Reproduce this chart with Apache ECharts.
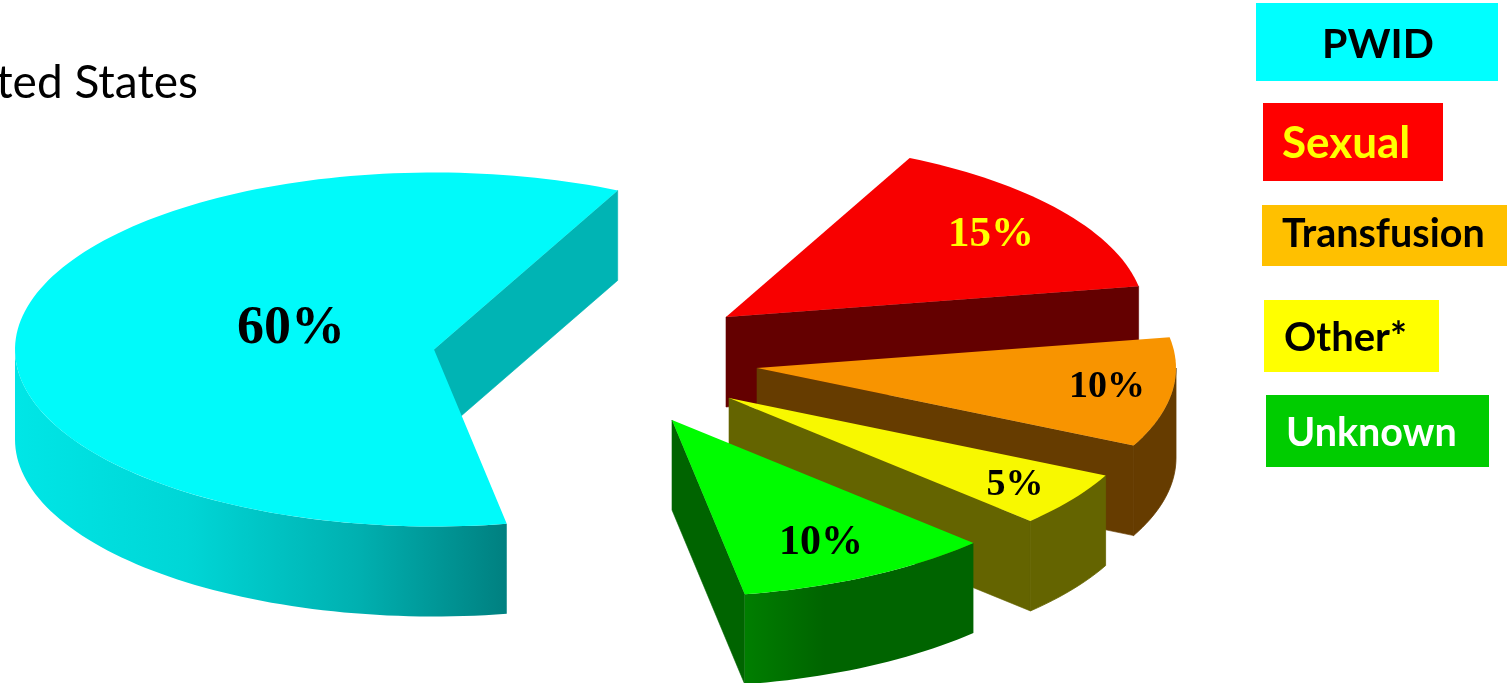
<!DOCTYPE html>
<html>
<head>
<meta charset="utf-8">
<title>Transmission routes</title>
<script src="https://cdn.jsdelivr.net/npm/echarts@6/dist/echarts.min.js"></script>
<style>
  html, body { margin: 0; padding: 0; background: #fff; overflow: hidden; }
  #chart { width: 1507px; height: 683px; }
</style>
</head>
<body>
<div id="chart"></div>
<script>
// Slices in counter-clockwise order, starting from the back-right edge of PWID.
const sliceNames = ['PWID', 'Unknown', 'Other*', 'Transfusion', 'Sexual'];
const sliceValues = [60, 10, 5, 10, 15];

// Legend order and title.
const legendNames = ['PWID', 'Sexual', 'Transfusion', 'Other*', 'Unknown'];
const titleText = 'United States';

// Colours per slice.
const topColors = ['#00fafa', '#00fc00', '#f8f800', '#f89400', '#f80000'];
const cutColors = ['#00b4b4', '#006400', '#646400', '#663c00', '#640000'];
const labelColors = ['#000', '#000', '#000', '#000', '#ffff00'];

// Projection of the tilted disc and the exploded position of each apex.
const startAngle = 64;
const radiusX = 419;
const radiusY = 177;
const depth = 90;
const apexX = [434, 672, 729, 757, 726];
const apexY = [349.5, 420, 398, 368, 317];

// Label placement and size.
const labelX = [291, 821, 1015, 1107, 991];
const labelY = [329, 543, 485, 387, 235];
const labelSize = [54, 42, 38, 38, 43];

// Legend boxes.
const legendColors = ['#00ffff', '#ff0000', '#ffc000', '#ffff00', '#00cc00'];
const legendText = ['#000', '#ffff00', '#000', '#000', '#fff'];
const legendBoxX = [1256, 1263, 1262, 1264, 1266];
const legendBoxY = [3, 103, 205, 300, 395];
const legendBoxW = [242, 180, 250, 175, 223];
const legendBoxH = [78, 78, 61, 72, 72];
const legendTextX = [1322, 1282, 1282, 1284, 1286];
const legendTextY = [45, 144, 234, 338, 433];
const legendFontSize = [41, 44, 39.5, 40, 39.5];

// Running angle of each slice, derived from its share of the total.
const total = sliceValues.reduce((a, b) => a + b, 0);
const sweeps = sliceValues.map(v => v / total * 360);
const starts = [];
sweeps.reduce((a, s, i) => { starts[i] = a; return a + s; }, startAngle);

function arc(cx, cy, from, to) {
  const pts = [];
  const steps = Math.max(2, Math.ceil((to - from) / 1.5));
  for (let k = 0; k <= steps; k++) {
    const t = (from + (to - from) * k / steps) * Math.PI / 180;
    pts.push([cx + radiusX * Math.cos(t), cy - radiusY * Math.sin(t)]);
  }
  return pts;
}

// Front-facing part of the rim: everywhere the angle lies in 180..360 (mod 360).
function wallRanges(from, to) {
  const out = [];
  for (let base = 0; base <= 720; base += 360) {
    const a = Math.max(from, base + 180);
    const b = Math.min(to, base + 360);
    if (b > a) out.push([a, b]);
  }
  return out;
}

function wallFill(i) {
  if (i === 0) {
    return new echarts.graphic.LinearGradient(0, 0, 1, 0, [
      { offset: 0, color: '#00e6e6' },
      { offset: 0.35, color: '#00d6d6' },
      { offset: 0.7, color: '#00b0b0' },
      { offset: 1, color: '#008080' }
    ]);
  }
  if (i === 1) {
    return new echarts.graphic.LinearGradient(0, 0, 1, 0, [
      { offset: 0, color: '#007e00' },
      { offset: 0.35, color: '#006400' },
      { offset: 1, color: '#006400' }
    ]);
  }
  return cutColors[i];
}

function renderSlice(params, api) {
  const i = api.value(0);
  const cx = apexX[i], cy = apexY[i];
  const from = starts[i], to = from + sweeps[i];
  const px = p => api.coord(p);
  const children = [];

  const radialFace = angle => {
    const rim = arc(cx, cy, angle, angle)[0];
    children.push({
      type: 'polygon',
      shape: { points: [[cx, cy], rim, [rim[0], rim[1] + depth], [cx, cy + depth]].map(px) },
      style: { fill: cutColors[i], stroke: cutColors[i], lineWidth: 0.6 }
    });
  };
  if (Math.cos(from * Math.PI / 180) > 0) radialFace(from);
  if (Math.cos(to * Math.PI / 180) < 0) radialFace(to);

  wallRanges(from, to).forEach(([a, b]) => {
    const upper = arc(cx, cy, a, b);
    const lower = upper.map(p => [p[0], p[1] + depth]).reverse();
    // Flat walls get a hairline of their own colour to close the seam with the cut face.
    const flat = i > 1;
    children.push({
      type: 'polygon',
      shape: { points: upper.concat(lower).map(px) },
      style: flat
        ? { fill: wallFill(i), stroke: cutColors[i], lineWidth: 0.8 }
        : { fill: wallFill(i) }
    });
  });

  children.push({
    type: 'polygon',
    shape: { points: [[cx, cy]].concat(arc(cx, cy, from, to)).map(px) },
    style: { fill: topColors[i] }
  });

  const at = px([labelX[i], labelY[i]]);
  children.push({
    type: 'text',
    z2: 10,
    style: {
      x: at[0], y: at[1],
      text: sliceValues[i] + '%',
      fill: labelColors[i],
      font: 'bold ' + labelSize[i] + 'px "Liberation Serif", serif',
      align: 'center', verticalAlign: 'middle'
    }
  });
  return { type: 'group', children };
}

const legendGraphics = [];
legendNames.forEach((name, i) => {
  legendGraphics.push({
    type: 'rect',
    shape: { x: legendBoxX[i], y: legendBoxY[i], width: legendBoxW[i], height: legendBoxH[i] },
    style: { fill: legendColors[i] }
  });
  legendGraphics.push({
    type: 'text',
    style: {
      x: legendTextX[i], y: legendTextY[i],
      text: name,
      fill: legendText[i],
      font: 'bold ' + legendFontSize[i] + 'px Lato, "Open Sans", sans-serif',
      align: 'left', verticalAlign: 'middle'
    }
  });
});
legendGraphics.push({
  type: 'text',
  style: {
    x: 198, y: 83,
    text: titleText,
    fill: '#000',
    font: '46px Lato, "Open Sans", sans-serif',
    align: 'right', verticalAlign: 'middle'
  }
});

const chart = echarts.init(document.getElementById('chart'), null, { renderer: 'canvas' });
chart.setOption({
  animation: false,
  backgroundColor: '#fff',
  grid: { left: 0, right: 0, top: 0, bottom: 0 },
  xAxis: { type: 'value', min: 0, max: 1507, show: false },
  yAxis: { type: 'value', min: 0, max: 683, inverse: true, show: false },
  graphic: legendGraphics,
  series: [{
    type: 'custom',
    coordinateSystem: 'cartesian2d',
    clip: false,
    renderItem: renderSlice,
    // Painted back to front so nearer slices overlap those behind.
    data: sliceNames.map((n, i) => ({ name: n, value: [i] })).reverse()
  }]
});
</script>
</body>
</html>
